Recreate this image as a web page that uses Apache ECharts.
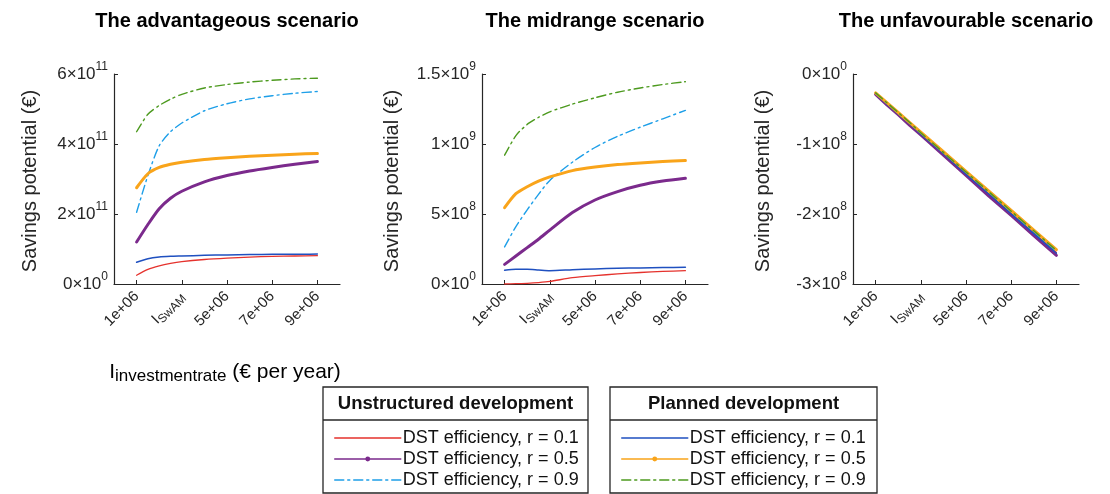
<!DOCTYPE html>
<html>
<head>
<meta charset="utf-8">
<script src="https://cdn.jsdelivr.net/npm/echarts@6/dist/echarts.min.js"></script>
<style>
    html, body { margin: 0; padding: 0; background: #fff; }
    #chart { width: 1110px; height: 494px; }
</style>
</head>
<body>
<div id="chart"></div>
<script>
    // investment rate (millions of € per year)
    const xInvest = [1, 1.5, 2, 2.5, 3, 4, 5, 6, 7, 8, 9];

    // advantageous scenario, savings in 1e11 €
    const advU1 = [0.25, 0.42, 0.52, 0.59, 0.64, 0.70, 0.74, 0.77, 0.79, 0.80, 0.81];
    const advU5 = [1.20, 1.70, 2.15, 2.45, 2.65, 2.92, 3.10, 3.23, 3.33, 3.42, 3.50];
    const advU9 = [2.05, 3.10, 3.95, 4.35, 4.60, 4.95, 5.15, 5.29, 5.38, 5.45, 5.50];
    const advP1 = [0.62, 0.72, 0.77, 0.79, 0.80, 0.82, 0.83, 0.84, 0.85, 0.85, 0.86];
    const advP5 = [2.75, 3.15, 3.33, 3.42, 3.48, 3.56, 3.61, 3.65, 3.68, 3.71, 3.73];
    const advP9 = [4.35, 4.85, 5.10, 5.28, 5.42, 5.60, 5.70, 5.77, 5.82, 5.86, 5.88];

    // midrange scenario, savings in 1e8 €
    const midU1 = [0.00, 0.02, 0.05, 0.10, 0.18, 0.45, 0.60, 0.72, 0.82, 0.90, 0.95];
    const midU5 = [1.40, 2.00, 2.60, 3.20, 3.85, 5.10, 6.00, 6.60, 7.05, 7.35, 7.55];
    const midU9 = [2.65, 4.10, 5.30, 6.40, 7.40, 8.70, 9.75, 10.55, 11.20, 11.80, 12.40];
    const midP1 = [0.98, 1.05, 1.05, 1.00, 0.95, 1.02, 1.08, 1.12, 1.15, 1.17, 1.19];
    const midP5 = [5.45, 6.45, 6.95, 7.35, 7.65, 8.10, 8.35, 8.53, 8.65, 8.75, 8.82];
    const midP9 = [9.20, 10.60, 11.40, 11.90, 12.30, 12.85, 13.30, 13.70, 14.00, 14.25, 14.45];

    // unfavourable scenario, savings in 1e8 €
    const unfU1 = [-0.28, -0.43, -0.57, -0.71, -0.85, -1.14, -1.42, -1.71, -1.99, -2.27, -2.55];
    const unfU5 = [-0.29, -0.44, -0.58, -0.73, -0.87, -1.16, -1.45, -1.74, -2.02, -2.31, -2.59];
    const unfU9 = [-0.28, -0.42, -0.56, -0.70, -0.85, -1.13, -1.41, -1.69, -1.97, -2.26, -2.54];
    const unfP1 = [-0.285, -0.43, -0.57, -0.71, -0.86, -1.14, -1.43, -1.71, -2.00, -2.28, -2.56];
    const unfP5 = [-0.27, -0.41, -0.55, -0.69, -0.83, -1.11, -1.39, -1.67, -1.95, -2.23, -2.51];
    const unfP9 = [-0.27, -0.41, -0.55, -0.69, -0.84, -1.12, -1.40, -1.68, -1.96, -2.24, -2.52];

    const titles = ['The advantageous scenario', 'The midrange scenario', 'The unfavourable scenario'];

    const xTickVals = [1e6, 3e6, 5e6, 7e6, 9e6];
    const xTickText = ['1e+06', 'I_SwAM', '5e+06', '7e+06', '9e+06'];

    const yTicks1 = [0, 2e11, 4e11, 6e11];
    const yTickText1 = ['0×10^0', '2×10^11', '4×10^11', '6×10^11'];
    const yTicks2 = [0, 5e8, 1e9, 1.5e9];
    const yTickText2 = ['0×10^0', '5×10^8', '1×10^9', '1.5×10^9'];
    const yTicks3 = [-3e8, -2e8, -1e8, 0];
    const yTickText3 = ['-3×10^8', '-2×10^8', '-1×10^8', '0×10^0'];

    const seriesKeys = ['u1', 'u5', 'u9', 'p1', 'p5', 'p9'];
    const legendText = ['DST efficiency, r = 0.1', 'DST efficiency, r = 0.5', 'DST efficiency, r = 0.9',
        'DST efficiency, r = 0.1', 'DST efficiency, r = 0.5', 'DST efficiency, r = 0.9'];

    const colors = {u1: '#e5322d', u5: '#7b2a8c', u9: '#1e9fe8', p1: '#1f50c0', p5: '#f9a41a', p9: '#4d9a1f'};
    const dashDot = [9, 4, 2, 4];
    const lineCfg = {
        u1: {width: 1.3, type: 'solid', dot: false},
        u5: {width: 3, type: 'solid', dot: true},
        u9: {width: 1.4, type: dashDot, dot: false},
        p1: {width: 1.5, type: 'solid', dot: false},
        p5: {width: 3, type: 'solid', dot: true},
        p9: {width: 1.4, type: dashDot, dot: false}
    };

    const panelData = [
        {scale: 1e11, smooth: 0.25, sets: {u1: advU1, u5: advU5, u9: advU9, p1: advP1, p5: advP5, p9: advP9}},
        {scale: 1e8, smooth: 0.25, sets: {u1: midU1, u5: midU5, u9: midU9, p1: midP1, p5: midP5, p9: midP9}},
        {scale: 1e8, smooth: false, sets: {u1: unfU1, u5: unfU5, u9: unfU9, p1: unfP1, p5: unfP5, p9: unfP9}}
    ];
    const yAxesCfg = [
        {min: 0, max: 6e11, interval: 2e11, ticks: yTicks1, text: yTickText1},
        {min: 0, max: 1.5e9, interval: 5e8, ticks: yTicks2, text: yTickText2},
        {min: -3e8, max: 0, interval: 1e8, ticks: yTicks3, text: yTickText3}
    ];

    const gridLeft = [114, 482, 853];
    const yNameX = [30, 392, 763];
    const axisColor = '#262626';
    const font = 'Liberation Sans, Arial, sans-serif';

    function supLabel(s) {
        let parts = s.split('^');
        return '{m|' + parts[0] + '}{s|' + parts[1] + '}';
    }

    function xLabel(v) {
        let i = xTickVals.findIndex(t => Math.abs(t - v) < 1);
        if (i < 0) return '';
        let s = xTickText[i];
        if (s.indexOf('_') >= 0) {
            let parts = s.split('_');
            return '{m|' + parts[0] + '}{b|' + parts[1] + '}';
        }
        return '{m|' + s + '}';
    }

    let grids = [], xAxes = [], yAxes = [], series = [], graphics = [];

    gridLeft.forEach((left, k) => {
        grids.push({left: left, top: 74, width: 226, height: 210});
        xAxes.push({
            type: 'value', gridIndex: k, min: 0, max: 1e7, position: 'bottom',
            axisLine: {onZero: false, lineStyle: {color: axisColor, width: 1.2}},
            axisTick: {inside: true, length: 4, customValues: xTickVals, lineStyle: {color: axisColor}},
            splitLine: {show: false},
            axisLabel: {
                customValues: xTickVals, rotate: 45, margin: 10, color: axisColor,
                fontFamily: font, formatter: xLabel,
                rich: {
                    m: {fontSize: 15, lineHeight: 20, fontFamily: font, color: axisColor},
                    b: {fontSize: 12, lineHeight: 12, verticalAlign: 'bottom', fontFamily: font, color: axisColor}
                }
            }
        });
        let yc = yAxesCfg[k];
        yAxes.push({
            type: 'value', gridIndex: k, min: yc.min, max: yc.max, interval: yc.interval,
            axisLine: {show: true, onZero: false, lineStyle: {color: axisColor, width: 1.2}},
            axisTick: {show: true, inside: true, length: 4, lineStyle: {color: axisColor}},
            splitLine: {show: false},
            axisLabel: {
                margin: 6, color: axisColor,
                formatter: function (v) {
                    let i = yc.ticks.findIndex(t => Math.abs(t - v) < Math.abs(yc.interval) * 1e-6);
                    return i < 0 ? '' : supLabel(yc.text[i]);
                },
                rich: {
                    m: {fontSize: 17, lineHeight: 26, fontFamily: font, color: axisColor},
                    s: {fontSize: 12, lineHeight: 12, verticalAlign: 'top', fontFamily: font, color: axisColor}
                }
            }
        });

        let pd = panelData[k];
        seriesKeys.forEach(key => {
            let cfg = lineCfg[key];
            series.push({
                name: key, type: 'line', xAxisIndex: k, yAxisIndex: k,
                data: xInvest.map((x, i) => [x * 1e6, pd.sets[key][i] * pd.scale]),
                symbol: 'circle', symbolSize: 4, showSymbol: false,
                smooth: pd.smooth,
                color: colors[key],
                lineStyle: {width: cfg.width, type: cfg.type, color: colors[key], join: 'round', cap: 'round'},
                emphasis: {disabled: true},
                animation: false
            });
        });

        graphics.push({
            type: 'text', x: left + 113, y: 21,
            style: {text: titles[k], align: 'center', verticalAlign: 'middle',
                fontSize: 20, fontWeight: 'bold', fontFamily: font, fill: '#000'}
        });
        graphics.push({
            type: 'text', x: yNameX[k], y: 181, rotation: Math.PI / 2,
            style: {text: 'Savings potential (€)', align: 'center', verticalAlign: 'middle',
                fontSize: 20, fontFamily: font, fill: axisColor}
        });
    });

    // x axis name under the first panel
    graphics.push({
        type: 'text', x: 225, y: 372,
        style: {
            text: '{m|I}{b|investmentrate}{m| (€ per year)}', align: 'center', verticalAlign: 'middle',
            rich: {
                m: {fontSize: 21, lineHeight: 26, fontFamily: font, color: axisColor},
                b: {fontSize: 17, lineHeight: 17, verticalAlign: 'bottom', fontFamily: font, color: axisColor}
            }
        }
    });

    // legend boxes
    const boxes = [
        {x: 323, w: 265, head: 'Unstructured development', keys: ['u1', 'u5', 'u9']},
        {x: 610, w: 267, head: 'Planned development', keys: ['p1', 'p5', 'p9']}
    ];
    const rowY = [433, 454, 475];
    let legends = [];
    boxes.forEach(b => {
        graphics.push({
            type: 'rect', shape: {x: b.x, y: 387, width: b.w, height: 106},
            style: {fill: '#fff', stroke: axisColor, lineWidth: 1.3}, z: -1
        });
        graphics.push({
            type: 'line', shape: {x1: b.x, y1: 420, x2: b.x + b.w, y2: 420},
            style: {stroke: axisColor, lineWidth: 1.3}
        });
        graphics.push({
            type: 'text', x: b.x + b.w / 2, y: 404,
            style: {text: b.head, align: 'center', verticalAlign: 'middle',
                fontSize: 18.5, fontWeight: 'bold', fontFamily: font, fill: '#111'}
        });
        b.keys.forEach((key, r) => {
            legends.push({
                left: b.x + 6, top: rowY[r] - 9, itemWidth: 66, itemHeight: 6,
                selectedMode: false,
                lineStyle: {width: 1.5},
                data: [{name: key, itemStyle: {opacity: lineCfg[key].dot ? 1 : 0}}],
                textStyle: {fontSize: 18, lineHeight: 18, fontFamily: font, color: '#111', padding: [0, 0, 0, -3]},
                formatter: name => legendText[seriesKeys.indexOf(name)]
            });
        });
    });

    let chart = echarts.init(document.getElementById('chart'));
    chart.setOption({
        animation: false,
        backgroundColor: '#fff',
        grid: grids,
        xAxis: xAxes,
        yAxis: yAxes,
        legend: legends,
        graphic: graphics,
        series: series
    });
</script>
</body>
</html>
